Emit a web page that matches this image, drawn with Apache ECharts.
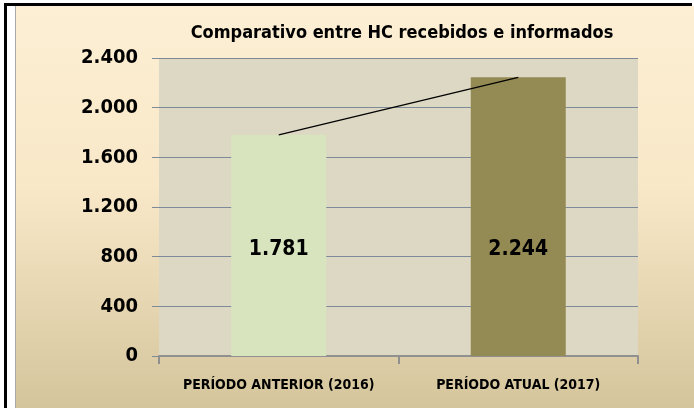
<!DOCTYPE html>
<html>
<head>
<meta charset="utf-8">
<script src="https://cdn.jsdelivr.net/npm/echarts@6/dist/echarts.min.js"></script>
<style>
  html, body { margin: 0; padding: 0; background: #fff; width: 694px; height: 408px; overflow: hidden; }
  .frame { position: absolute; left: 4px; top: 3px; width: 688px; height: 405px; border-left: 3px solid #000; border-top: 3px solid #000; box-sizing: border-box; }
  #main { position: absolute; left: 15px; top: 6px; width: 679px; height: 402px;
    background: linear-gradient(to bottom, #fdefd4 0%, #f8e8c8 45%, #d5c59c 100%);
    border-left: 1px solid #a8a8a8; box-sizing: border-box; }
</style>
</head>
<body>
<div class="frame"></div>
<div id="main"></div>
<script>
// dados do gráfico
var categorias = ['PERÍODO ANTERIOR (2016)', 'PERÍODO ATUAL (2017)'];
var valores = [1781, 2244];
var coresBarras = ['#d7e4bd', '#948a54'];

var fonte = 'DejaVu Sans Condensed';

function fmt(v) {
  return String(v).replace(/\B(?=(\d{3})+(?!\d))/g, '.');
}

var chart = echarts.init(document.getElementById('main'));
var option = {
  animation: false,
  title: {
    text: 'Comparativo entre HC recebidos e informados',
    left: 381, top: 13, textAlign: 'center',
    textStyle: { fontFamily: fonte, fontWeight: 'bold', fontSize: 18, color: '#000' }
  },
  grid: {
    left: 143, right: 56, top: 52, bottom: 52,
    show: true, backgroundColor: '#ddd8c3', borderWidth: 0
  },
  xAxis: {
    type: 'category',
    data: categorias,
    axisLine: { lineStyle: { color: '#909090', width: 2 } },
    axisTick: { show: true, length: 8, lineStyle: { color: '#909090', width: 2 } },
    axisLabel: { interval: 0, margin: 22, fontFamily: fonte, fontWeight: 'bold', fontSize: 14, color: '#000' }
  },
  yAxis: {
    type: 'value',
    min: 0, max: 2400, interval: 400,
    axisLine: { show: false },
    axisTick: { show: true, length: 7, lineStyle: { color: '#7f8a99' } },
    splitLine: { lineStyle: { color: '#7f8a99', width: 1 } },
    axisLabel: {
      margin: 21, fontFamily: fonte, fontWeight: 'bold', fontSize: 20, color: '#000',
      formatter: function (v) { return fmt(v); }
    }
  },
  series: [
    {
      type: 'bar',
      barWidth: 95,
      data: valores.map(function (v, i) {
        return { value: v, itemStyle: { color: coresBarras[i] } };
      }),
      label: {
        show: true, position: 'insideBottom', distance: 96,
        fontFamily: fonte, fontWeight: 'bold', fontSize: 21, color: '#000',
        formatter: function (p) { return fmt(p.value); }
      }
    },
    {
      type: 'line',
      data: valores,
      symbol: 'none',
      z: 5,
      lineStyle: { color: '#000', width: 1.2 }
    }
  ]
};
chart.setOption(option);
</script>
</body>
</html>
